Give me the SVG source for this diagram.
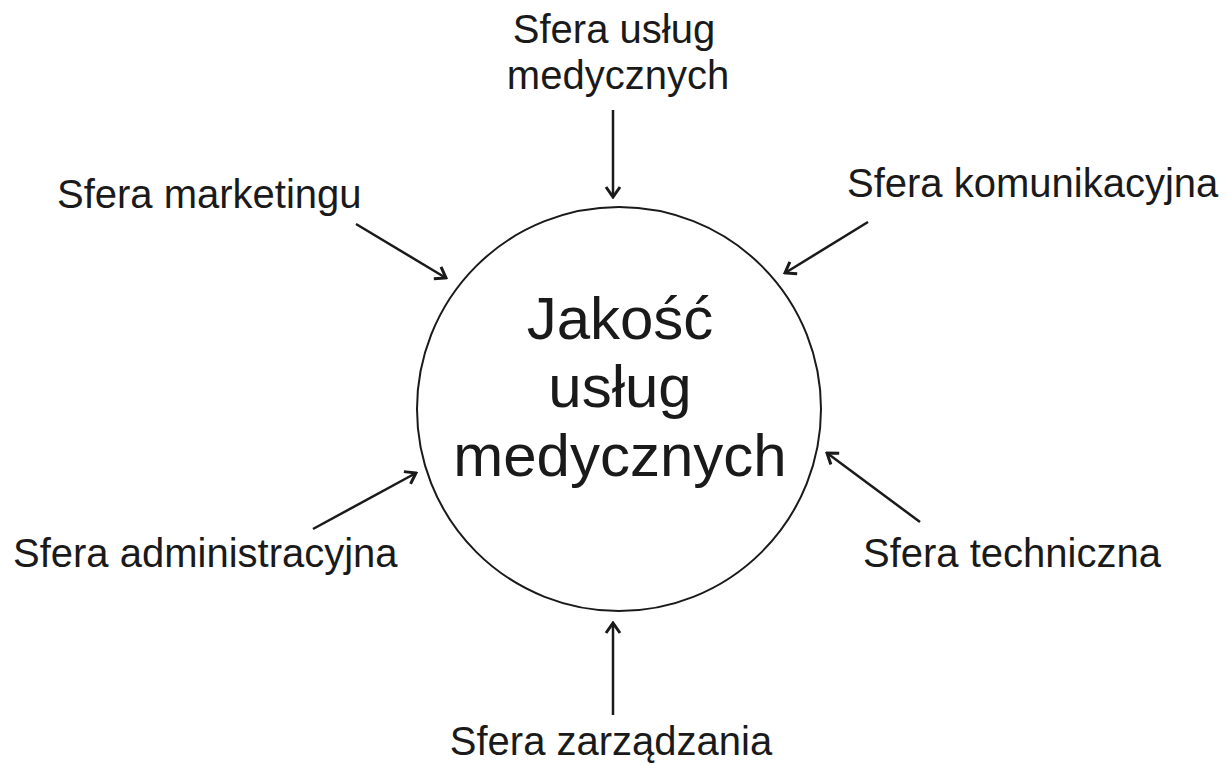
<svg xmlns="http://www.w3.org/2000/svg" width="1227" height="765" viewBox="0 0 1227 765">
<style>
  .lbl { font-family: "Liberation Sans", Arial, sans-serif; font-size: 40px; fill: #1a1a1a; }
  .main { font-family: "Liberation Sans", Arial, sans-serif; font-size: 60px; fill: #1a1a1a; text-anchor: middle; }
  .conn { stroke: #1a1a1a; stroke-width: 2.5; fill: none; marker-end: url(#arr); }
</style>
<defs>
  <marker id="arr" markerUnits="userSpaceOnUse" markerWidth="14" markerHeight="18" viewBox="0 0 14 18" refX="12" refY="9" orient="auto">
    <path d="M2,2 L12,9 L2,16" fill="none" stroke="#1a1a1a" stroke-width="3"/>
  </marker>
</defs>
<rect width="1227" height="765" fill="#ffffff"/>
<g id="center">
  <circle cx="619" cy="409" r="202" fill="none" stroke="#1a1a1a" stroke-width="2"/>
  <text class="main" x="620" y="339">Jakość</text>
  <text class="main" x="620" y="407">usług</text>
  <text class="main" x="620" y="476">medycznych</text>
</g>
<g id="medyczne">
  <text class="lbl" x="614" y="43" text-anchor="middle">Sfera usług</text>
  <text class="lbl" x="618" y="89" text-anchor="middle">medycznych</text>
</g>
<g id="marketing"><text class="lbl" x="57" y="208">Sfera marketingu</text></g>
<g id="komunikacyjna"><text class="lbl" x="847" y="197">Sfera komunikacyjna</text></g>
<g id="administracyjna"><text class="lbl" x="13" y="567">Sfera administracyjna</text></g>
<g id="techniczna"><text class="lbl" x="863" y="567">Sfera techniczna</text></g>
<g id="zarzadzania"><text class="lbl" x="611" y="755" text-anchor="middle">Sfera zarządzania</text></g>
<g id="connectors">
  <line class="conn" x1="613" y1="110" x2="613" y2="197"/>
  <line class="conn" x1="613" y1="715" x2="613" y2="623"/>
  <line class="conn" x1="356" y1="224" x2="446" y2="278"/>
  <line class="conn" x1="313" y1="529" x2="416" y2="473"/>
  <line class="conn" x1="868" y1="222" x2="785" y2="273"/>
  <line class="conn" x1="920" y1="522" x2="827" y2="453"/>
</g>
</svg>
